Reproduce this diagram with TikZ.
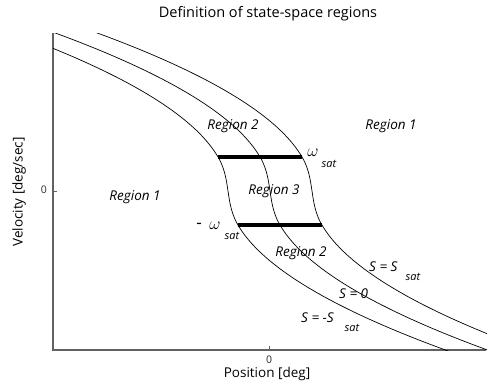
\documentclass[tikz,border=0pt]{standalone}
\usepackage{fontspec}
\setmainfont{Open Sans}
\begin{document}
\begin{tikzpicture}[x=1pt,y=-1pt,
  curve/.style={black, line width=0.7pt},
  satbar/.style={black, line width=3.6pt},
  axisline/.style={draw=black!62, line width=1.3pt},
  ticklab/.style={font=\fontsize{10.5}{12}\selectfont, inner sep=0pt, text=black!85},
  axlab/.style={font=\fontsize{13.5}{15}\selectfont, inner sep=0pt},
  titlab/.style={font=\fontsize{14.5}{16}\selectfont, inner sep=0pt},
  reglab/.style={font=\fontsize{13.5}{15}\selectfont\itshape, inner sep=0pt},
  omlab/.style={font=\fontsize{17}{19}\selectfont, inner sep=0pt},
  sublab/.style={font=\fontsize{11}{12}\selectfont\itshape, inner sep=0pt}]
\useasboundingbox (0,0) rectangle (493,386);
% axes
\coordinate (o) at (53,350);
\coordinate (ytop) at (53,33);
\coordinate (xend) at (486,350);
\draw[axisline] (ytop) -- (o) -- (xend);
\coordinate (yt) at (53,191);
\coordinate (xt) at (269,350);
\draw[axisline, line width=1pt] (yt) -- ++(4,0);
\draw[axisline, line width=1pt] (xt) -- ++(0,-4);
\node[ticklab, anchor=east] (y0) at (47,190) {0};
\node[ticklab] (x0) at (269,360) {0};
\node[titlab] (title) at (268,14) {Definition of state-space regions};
\node[axlab] (xlab) at (267,374) {Position [deg]};
\node[axlab, rotate=90] (ylab) at (19,192) {Velocity [deg/sec]};
% curves
\begin{scope}
\clip (53,33) rectangle (487,350.5);
\foreach \c in {228,270,312}{
\draw[curve] plot[domain=16.5:3.4, samples=40, smooth] ({\c - 0.86*\x*\x}, {191-10*\x})
  -- plot[domain=1:-1, samples=25, smooth] ({\c - 4.97*(\x+\x*\x*\x)}, {191-34*\x})
  -- plot[domain=-3.4:-16.5, samples=40, smooth] ({\c + 0.86*\x*\x}, {191-10*\x});
}
\end{scope}
% saturation bars
\coordinate (wl) at (218,157);
\coordinate (wr) at (302,157);
\coordinate (ml) at (238,225);
\coordinate (mr) at (322,225);
\draw[satbar] (wl) -- (wr);
\draw[satbar] (ml) -- (mr);
% labels
\node[reglab] (r2a) at (233,126) {Region 2};
\node[reglab] (r1a) at (391,126) {Region 1};
\node[reglab] (r3) at (274,191) {Region 3};
\node[reglab] (r1b) at (135,197) {Region 1};
\node[reglab] (r2b) at (301,253) {Region 2};
\node[omlab] (w1) at (313,153) {$\omega$};
\node[sublab] (w1s) at (329,164) {sat};
\node[omlab] (w2m) at (199,226) {-};
\node[omlab] (w2) at (215,226) {$\omega$};
\node[sublab] (w2s) at (232,236) {sat};
\node[reglab, anchor=west] (s1) at (369,267) {S = S};
\node[sublab] (s1s) at (413,277) {sat};
\node[reglab, anchor=west] (s0) at (339,294) {S = 0};
\node[reglab, anchor=west] (s2) at (301,318) {S = -S};
\node[sublab] (s2s) at (352,328) {sat};
\end{tikzpicture}
\end{document}
